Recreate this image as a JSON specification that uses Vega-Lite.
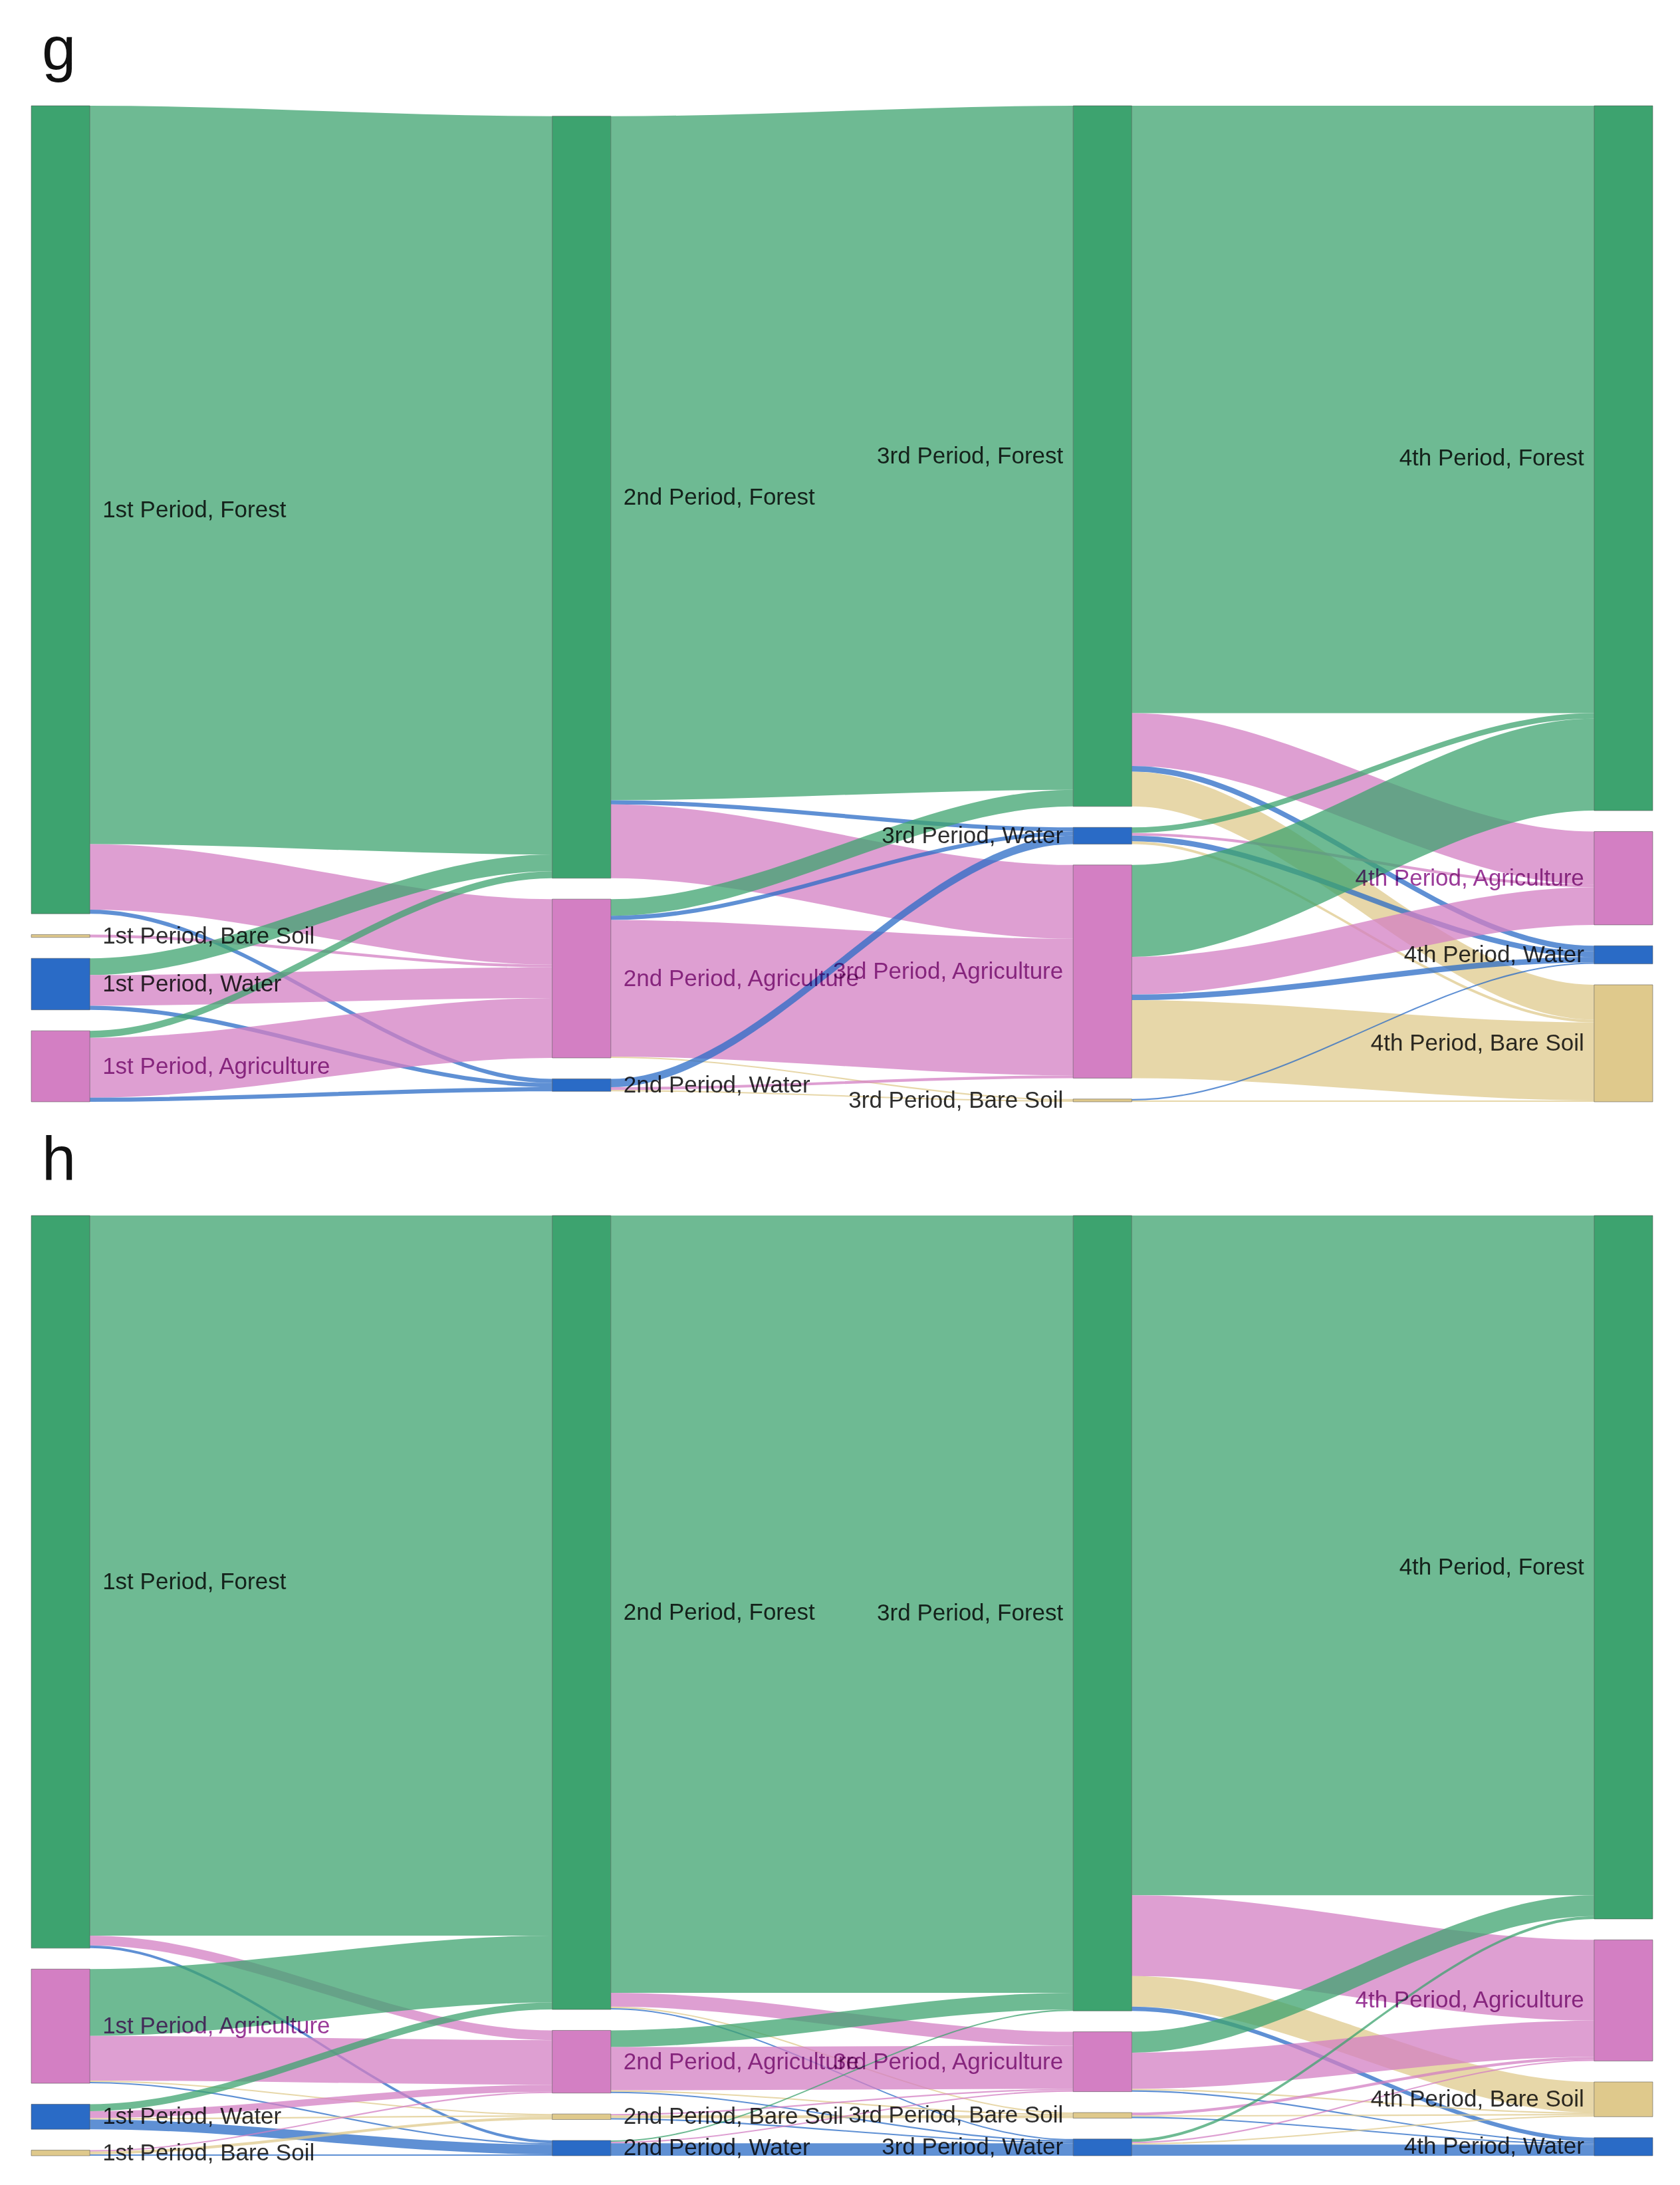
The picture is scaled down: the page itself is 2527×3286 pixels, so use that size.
{
  "$schema": "https://vega.github.io/schema/vega-lite/v6.json",
  "background": "white",
  "padding": {"left": 46, "right": 42, "top": 30, "bottom": 30},
  "spacing": 26,
  "config": {
    "view": {"stroke": null},
    "title": {"font": "Liberation Sans", "fontSize": 92, "fontWeight": "normal", "color": "#111111", "anchor": "start", "frame": "group", "offset": 35, "dx": 16}
  },
  "resolve": {"scale": {"x": "independent", "y": "independent"}},
  "datasets": {
    "nodes": [
      {"id": "g1 Forest", "ord": 0}, {"id": "g1 Bare Soil", "ord": 1}, {"id": "g1 Water", "ord": 2}, {"id": "g1 Agriculture", "ord": 3},
      {"id": "g2 Forest", "ord": 0}, {"id": "g2 Agriculture", "ord": 1}, {"id": "g2 Water", "ord": 2},
      {"id": "g3 Forest", "ord": 0}, {"id": "g3 Water", "ord": 1}, {"id": "g3 Agriculture", "ord": 2}, {"id": "g3 Bare Soil", "ord": 3},
      {"id": "g4 Forest", "ord": 0}, {"id": "g4 Agriculture", "ord": 1}, {"id": "g4 Water", "ord": 2}, {"id": "g4 Bare Soil", "ord": 3},
      {"id": "h1 Forest", "ord": 0}, {"id": "h1 Agriculture", "ord": 1}, {"id": "h1 Water", "ord": 2}, {"id": "h1 Bare Soil", "ord": 3},
      {"id": "h2 Forest", "ord": 0}, {"id": "h2 Agriculture", "ord": 1}, {"id": "h2 Bare Soil", "ord": 2}, {"id": "h2 Water", "ord": 3},
      {"id": "h3 Forest", "ord": 0}, {"id": "h3 Agriculture", "ord": 1}, {"id": "h3 Bare Soil", "ord": 2}, {"id": "h3 Water", "ord": 3},
      {"id": "h4 Forest", "ord": 0}, {"id": "h4 Agriculture", "ord": 1}, {"id": "h4 Bare Soil", "ord": 2}, {"id": "h4 Water", "ord": 3}
    ],
    "links": [
      {"panel": "g", "step": 1, "src": "Forest", "tgt": "Forest", "value": 530},
      {"panel": "g", "step": 1, "src": "Forest", "tgt": "Agriculture", "value": 47},
      {"panel": "g", "step": 1, "src": "Forest", "tgt": "Water", "value": 3},
      {"panel": "g", "step": 1, "src": "Bare Soil", "tgt": "Agriculture", "value": 2},
      {"panel": "g", "step": 1, "src": "Water", "tgt": "Forest", "value": 12},
      {"panel": "g", "step": 1, "src": "Water", "tgt": "Agriculture", "value": 22},
      {"panel": "g", "step": 1, "src": "Water", "tgt": "Water", "value": 3},
      {"panel": "g", "step": 1, "src": "Agriculture", "tgt": "Forest", "value": 5},
      {"panel": "g", "step": 1, "src": "Agriculture", "tgt": "Agriculture", "value": 43},
      {"panel": "g", "step": 1, "src": "Agriculture", "tgt": "Water", "value": 3},
      {"panel": "g", "step": 2, "src": "Forest", "tgt": "Forest", "value": 491},
      {"panel": "g", "step": 2, "src": "Forest", "tgt": "Water", "value": 3},
      {"panel": "g", "step": 2, "src": "Forest", "tgt": "Agriculture", "value": 53},
      {"panel": "g", "step": 2, "src": "Agriculture", "tgt": "Forest", "value": 12},
      {"panel": "g", "step": 2, "src": "Agriculture", "tgt": "Water", "value": 3},
      {"panel": "g", "step": 2, "src": "Agriculture", "tgt": "Agriculture", "value": 98},
      {"panel": "g", "step": 2, "src": "Agriculture", "tgt": "Bare Soil", "value": 1},
      {"panel": "g", "step": 2, "src": "Water", "tgt": "Water", "value": 6},
      {"panel": "g", "step": 2, "src": "Water", "tgt": "Agriculture", "value": 2},
      {"panel": "g", "step": 2, "src": "Water", "tgt": "Bare Soil", "value": 1},
      {"panel": "g", "step": 3, "src": "Forest", "tgt": "Forest", "value": 436},
      {"panel": "g", "step": 3, "src": "Forest", "tgt": "Agriculture", "value": 38},
      {"panel": "g", "step": 3, "src": "Forest", "tgt": "Water", "value": 4},
      {"panel": "g", "step": 3, "src": "Forest", "tgt": "Bare Soil", "value": 25},
      {"panel": "g", "step": 3, "src": "Water", "tgt": "Forest", "value": 4},
      {"panel": "g", "step": 3, "src": "Water", "tgt": "Agriculture", "value": 2},
      {"panel": "g", "step": 3, "src": "Water", "tgt": "Water", "value": 4},
      {"panel": "g", "step": 3, "src": "Water", "tgt": "Bare Soil", "value": 2},
      {"panel": "g", "step": 3, "src": "Agriculture", "tgt": "Forest", "value": 66},
      {"panel": "g", "step": 3, "src": "Agriculture", "tgt": "Agriculture", "value": 27},
      {"panel": "g", "step": 3, "src": "Agriculture", "tgt": "Water", "value": 4},
      {"panel": "g", "step": 3, "src": "Agriculture", "tgt": "Bare Soil", "value": 56},
      {"panel": "g", "step": 3, "src": "Bare Soil", "tgt": "Water", "value": 1},
      {"panel": "g", "step": 3, "src": "Bare Soil", "tgt": "Bare Soil", "value": 1},
      {"panel": "h", "step": 1, "src": "Forest", "tgt": "Forest", "value": 517},
      {"panel": "h", "step": 1, "src": "Forest", "tgt": "Agriculture", "value": 7},
      {"panel": "h", "step": 1, "src": "Forest", "tgt": "Water", "value": 2},
      {"panel": "h", "step": 1, "src": "Agriculture", "tgt": "Forest", "value": 48},
      {"panel": "h", "step": 1, "src": "Agriculture", "tgt": "Agriculture", "value": 32},
      {"panel": "h", "step": 1, "src": "Agriculture", "tgt": "Bare Soil", "value": 1},
      {"panel": "h", "step": 1, "src": "Agriculture", "tgt": "Water", "value": 1},
      {"panel": "h", "step": 1, "src": "Water", "tgt": "Forest", "value": 5},
      {"panel": "h", "step": 1, "src": "Water", "tgt": "Agriculture", "value": 5},
      {"panel": "h", "step": 1, "src": "Water", "tgt": "Bare Soil", "value": 1},
      {"panel": "h", "step": 1, "src": "Water", "tgt": "Water", "value": 7},
      {"panel": "h", "step": 1, "src": "Bare Soil", "tgt": "Agriculture", "value": 1},
      {"panel": "h", "step": 1, "src": "Bare Soil", "tgt": "Bare Soil", "value": 2},
      {"panel": "h", "step": 1, "src": "Bare Soil", "tgt": "Water", "value": 1},
      {"panel": "h", "step": 2, "src": "Forest", "tgt": "Forest", "value": 558},
      {"panel": "h", "step": 2, "src": "Forest", "tgt": "Agriculture", "value": 10},
      {"panel": "h", "step": 2, "src": "Forest", "tgt": "Bare Soil", "value": 1},
      {"panel": "h", "step": 2, "src": "Forest", "tgt": "Water", "value": 1},
      {"panel": "h", "step": 2, "src": "Agriculture", "tgt": "Forest", "value": 12},
      {"panel": "h", "step": 2, "src": "Agriculture", "tgt": "Agriculture", "value": 31},
      {"panel": "h", "step": 2, "src": "Agriculture", "tgt": "Bare Soil", "value": 1},
      {"panel": "h", "step": 2, "src": "Agriculture", "tgt": "Water", "value": 1},
      {"panel": "h", "step": 2, "src": "Bare Soil", "tgt": "Agriculture", "value": 1},
      {"panel": "h", "step": 2, "src": "Bare Soil", "tgt": "Bare Soil", "value": 2},
      {"panel": "h", "step": 2, "src": "Bare Soil", "tgt": "Water", "value": 1},
      {"panel": "h", "step": 2, "src": "Water", "tgt": "Forest", "value": 1},
      {"panel": "h", "step": 2, "src": "Water", "tgt": "Agriculture", "value": 1},
      {"panel": "h", "step": 2, "src": "Water", "tgt": "Water", "value": 9},
      {"panel": "h", "step": 3, "src": "Forest", "tgt": "Forest", "value": 488},
      {"panel": "h", "step": 3, "src": "Forest", "tgt": "Agriculture", "value": 58},
      {"panel": "h", "step": 3, "src": "Forest", "tgt": "Bare Soil", "value": 22},
      {"panel": "h", "step": 3, "src": "Forest", "tgt": "Water", "value": 3},
      {"panel": "h", "step": 3, "src": "Agriculture", "tgt": "Forest", "value": 15},
      {"panel": "h", "step": 3, "src": "Agriculture", "tgt": "Agriculture", "value": 26},
      {"panel": "h", "step": 3, "src": "Agriculture", "tgt": "Bare Soil", "value": 1},
      {"panel": "h", "step": 3, "src": "Agriculture", "tgt": "Water", "value": 1},
      {"panel": "h", "step": 3, "src": "Bare Soil", "tgt": "Agriculture", "value": 2},
      {"panel": "h", "step": 3, "src": "Bare Soil", "tgt": "Bare Soil", "value": 1},
      {"panel": "h", "step": 3, "src": "Bare Soil", "tgt": "Water", "value": 1},
      {"panel": "h", "step": 3, "src": "Water", "tgt": "Forest", "value": 2},
      {"panel": "h", "step": 3, "src": "Water", "tgt": "Agriculture", "value": 1},
      {"panel": "h", "step": 3, "src": "Water", "tgt": "Bare Soil", "value": 1},
      {"panel": "h", "step": 3, "src": "Water", "tgt": "Water", "value": 8}
    ]
  },
  "vconcat": [
    {
      "title": {"text": "g"},
      "width": 2439,
      "height": 1498,
      "data": {"name": "links"},
      "transform": [
        {"filter": "datum.panel === 'g'"},
        {"calculate": "datum.panel + datum.step + ' ' + datum.src", "as": "sid"},
        {"calculate": "datum.panel + (datum.step + 1) + ' ' + datum.tgt", "as": "tid"},
        {"lookup": "sid", "from": {"data": {"name": "nodes"}, "key": "id", "fields": ["ord"]}, "as": ["sord"]},
        {"lookup": "tid", "from": {"data": {"name": "nodes"}, "key": "id", "fields": ["ord"]}, "as": ["tord"]},
        {"window": [{"op": "sum", "field": "value", "as": "scum"}], "groupby": ["step"], "sort": [{"field": "sord"}, {"field": "tord"}]},
        {"window": [{"op": "dense_rank", "as": "srank"}], "groupby": ["step"], "sort": [{"field": "sord"}]},
        {"window": [{"op": "sum", "field": "value", "as": "tcum"}], "groupby": ["step"], "sort": [{"field": "tord"}, {"field": "sord"}]},
        {"window": [{"op": "dense_rank", "as": "trank"}], "groupby": ["step"], "sort": [{"field": "tord"}]},
        {"joinaggregate": [{"op": "sum", "field": "value", "as": "ctot"}, {"op": "max", "field": "srank", "as": "sn"}, {"op": "max", "field": "trank", "as": "tn"}], "groupby": ["step"]},
        {"calculate": "datum.ctot + (datum.sn - 1) * 15", "as": "sspan"},
        {"calculate": "datum.ctot + (datum.tn - 1) * 15", "as": "tspan"},
        {"joinaggregate": [{"op": "max", "field": "sspan", "as": "m1"}, {"op": "max", "field": "tspan", "as": "m2"}]},
        {"calculate": "max(datum.m1, datum.m2)", "as": "mspan"},
        {"calculate": "(datum.mspan - datum.sspan) / 2 + datum.scum + (datum.srank - 1) * 15", "as": "sy1"},
        {"calculate": "datum.sy1 - datum.value", "as": "sy0"},
        {"calculate": "(datum.mspan - datum.tspan) / 2 + datum.tcum + (datum.trank - 1) * 15", "as": "ty1"},
        {"calculate": "datum.ty1 - datum.value", "as": "ty0"}
      ],
      "layer": [
        {
          "transform": [
            {"calculate": "datum.step - 1 + 0.1125", "as": "xa"},
            {"calculate": "datum.step - 1 + 0.1135", "as": "xb"},
            {"calculate": "datum.step - 0.001", "as": "xc"},
            {"calculate": "datum.step", "as": "xd"},
            {"fold": ["xa", "xb", "xc", "xd"], "as": ["k", "px"]},
            {"calculate": "datum.k === 'xa' || datum.k === 'xb' ? datum.sy0 : datum.ty0", "as": "top"},
            {"calculate": "datum.k === 'xa' || datum.k === 'xb' ? datum.sy1 : datum.ty1", "as": "bot"},
            {"calculate": "datum.sid + ' > ' + datum.tgt", "as": "lid"}
          ],
          "mark": {"type": "area", "interpolate": "monotone", "opacity": 0.75},
          "encoding": {
            "x": {"field": "px", "type": "quantitative", "scale": {"domain": [0, 3.1125], "nice": false, "zero": false}, "axis": null},
            "y": {"field": "top", "type": "quantitative", "stack": null, "scale": {"reverse": true, "nice": false, "zero": true}, "axis": null},
            "y2": {"field": "bot"},
            "detail": {"field": "lid", "type": "nominal"},
            "color": {"field": "tgt", "type": "nominal", "scale": {"domain": ["Forest", "Agriculture", "Water", "Bare Soil"], "range": ["#3da36f", "#d37fc3", "#2a6bc6", "#dfc98c"]}, "legend": null}
          }
        },
        {
          "transform": [
            {"fold": ["sy0", "ty0"], "as": ["side", "ny0"]},
            {"calculate": "datum.side === 'sy0' ? datum.sy1 : datum.ty1", "as": "ny1"},
            {"calculate": "datum.side === 'sy0' ? datum.step : datum.step + 1", "as": "np"},
            {"calculate": "datum.side === 'sy0' ? datum.src : datum.tgt", "as": "ncls"},
            {"aggregate": [{"op": "min", "field": "ny0", "as": "y0"}, {"op": "max", "field": "ny1", "as": "y1"}], "groupby": ["np", "ncls"]},
            {"calculate": "datum.np - 1", "as": "nx0"},
            {"calculate": "datum.np - 1 + 0.1125", "as": "nx1"},
            {"calculate": "(datum.y0 + datum.y1) / 2", "as": "ym"},
            {"calculate": "['1st', '2nd', '3rd', '4th'][datum.np - 1] + ' Period, ' + datum.ncls", "as": "label"}
          ],
          "layer": [
            {
              "mark": {"type": "rect", "stroke": "#444444", "strokeWidth": 1, "strokeOpacity": 0.5},
              "encoding": {
                "x": {"field": "nx0", "type": "quantitative", "scale": {"domain": [0, 3.1125], "nice": false, "zero": false}, "axis": null},
                "x2": {"field": "nx1"},
                "y": {"field": "y0", "type": "quantitative", "scale": {"reverse": true, "nice": false, "zero": true}, "axis": null},
                "y2": {"field": "y1"},
                "color": {"field": "ncls", "type": "nominal", "scale": {"domain": ["Forest", "Agriculture", "Water", "Bare Soil"], "range": ["#3da36f", "#d37fc3", "#2a6bc6", "#dfc98c"]}, "legend": null}
              }
            },
            {
              "transform": [{"filter": "datum.np <= 2"}],
              "mark": {"type": "text", "align": "left", "baseline": "middle", "dx": 19, "font": "Liberation Sans", "fontSize": 35, "blend": "multiply"},
              "encoding": {
                "x": {"field": "nx1", "type": "quantitative", "scale": {"domain": [0, 3.1125], "nice": false, "zero": false}, "axis": null},
                "y": {"field": "ym", "type": "quantitative", "scale": {"reverse": true, "nice": false, "zero": true}, "axis": null},
                "text": {"field": "label"},
                "color": {"condition": {"test": "datum.ncls === 'Agriculture'", "value": "#9a3a98"}, "value": "#2e2e2e"}
              }
            },
            {
              "transform": [{"filter": "datum.np > 2"}],
              "mark": {"type": "text", "align": "right", "baseline": "middle", "dx": -15, "font": "Liberation Sans", "fontSize": 35, "blend": "multiply"},
              "encoding": {
                "x": {"field": "nx0", "type": "quantitative", "scale": {"domain": [0, 3.1125], "nice": false, "zero": false}, "axis": null},
                "y": {"field": "ym", "type": "quantitative", "scale": {"reverse": true, "nice": false, "zero": true}, "axis": null},
                "text": {"field": "label"},
                "color": {"condition": {"test": "datum.ncls === 'Agriculture'", "value": "#9a3a98"}, "value": "#2e2e2e"}
              }
            }
          ]
        }
      ]
    },
    {
      "title": {"text": "h"},
      "width": 2439,
      "height": 1414,
      "data": {"name": "links"},
      "transform": [
        {"filter": "datum.panel === 'h'"},
        {"calculate": "datum.panel + datum.step + ' ' + datum.src", "as": "sid"},
        {"calculate": "datum.panel + (datum.step + 1) + ' ' + datum.tgt", "as": "tid"},
        {"lookup": "sid", "from": {"data": {"name": "nodes"}, "key": "id", "fields": ["ord"]}, "as": ["sord"]},
        {"lookup": "tid", "from": {"data": {"name": "nodes"}, "key": "id", "fields": ["ord"]}, "as": ["tord"]},
        {"window": [{"op": "sum", "field": "value", "as": "scum"}], "groupby": ["step"], "sort": [{"field": "sord"}, {"field": "tord"}]},
        {"window": [{"op": "dense_rank", "as": "srank"}], "groupby": ["step"], "sort": [{"field": "sord"}]},
        {"window": [{"op": "sum", "field": "value", "as": "tcum"}], "groupby": ["step"], "sort": [{"field": "tord"}, {"field": "sord"}]},
        {"window": [{"op": "dense_rank", "as": "trank"}], "groupby": ["step"], "sort": [{"field": "tord"}]},
        {"joinaggregate": [{"op": "sum", "field": "value", "as": "ctot"}, {"op": "max", "field": "srank", "as": "sn"}, {"op": "max", "field": "trank", "as": "tn"}], "groupby": ["step"]},
        {"calculate": "datum.ctot + (datum.sn - 1) * 15", "as": "sspan"},
        {"calculate": "datum.ctot + (datum.tn - 1) * 15", "as": "tspan"},
        {"joinaggregate": [{"op": "max", "field": "sspan", "as": "m1"}, {"op": "max", "field": "tspan", "as": "m2"}]},
        {"calculate": "max(datum.m1, datum.m2)", "as": "mspan"},
        {"calculate": "(datum.mspan - datum.sspan) / 2 + datum.scum + (datum.srank - 1) * 15", "as": "sy1"},
        {"calculate": "datum.sy1 - datum.value", "as": "sy0"},
        {"calculate": "(datum.mspan - datum.tspan) / 2 + datum.tcum + (datum.trank - 1) * 15", "as": "ty1"},
        {"calculate": "datum.ty1 - datum.value", "as": "ty0"}
      ],
      "layer": [
        {
          "transform": [
            {"calculate": "datum.step - 1 + 0.1125", "as": "xa"},
            {"calculate": "datum.step - 1 + 0.1135", "as": "xb"},
            {"calculate": "datum.step - 0.001", "as": "xc"},
            {"calculate": "datum.step", "as": "xd"},
            {"fold": ["xa", "xb", "xc", "xd"], "as": ["k", "px"]},
            {"calculate": "datum.k === 'xa' || datum.k === 'xb' ? datum.sy0 : datum.ty0", "as": "top"},
            {"calculate": "datum.k === 'xa' || datum.k === 'xb' ? datum.sy1 : datum.ty1", "as": "bot"},
            {"calculate": "datum.sid + ' > ' + datum.tgt", "as": "lid"}
          ],
          "mark": {"type": "area", "interpolate": "monotone", "opacity": 0.75},
          "encoding": {
            "x": {"field": "px", "type": "quantitative", "scale": {"domain": [0, 3.1125], "nice": false, "zero": false}, "axis": null},
            "y": {"field": "top", "type": "quantitative", "stack": null, "scale": {"reverse": true, "nice": false, "zero": true}, "axis": null},
            "y2": {"field": "bot"},
            "detail": {"field": "lid", "type": "nominal"},
            "color": {"field": "tgt", "type": "nominal", "scale": {"domain": ["Forest", "Agriculture", "Water", "Bare Soil"], "range": ["#3da36f", "#d37fc3", "#2a6bc6", "#dfc98c"]}, "legend": null}
          }
        },
        {
          "transform": [
            {"fold": ["sy0", "ty0"], "as": ["side", "ny0"]},
            {"calculate": "datum.side === 'sy0' ? datum.sy1 : datum.ty1", "as": "ny1"},
            {"calculate": "datum.side === 'sy0' ? datum.step : datum.step + 1", "as": "np"},
            {"calculate": "datum.side === 'sy0' ? datum.src : datum.tgt", "as": "ncls"},
            {"aggregate": [{"op": "min", "field": "ny0", "as": "y0"}, {"op": "max", "field": "ny1", "as": "y1"}], "groupby": ["np", "ncls"]},
            {"calculate": "datum.np - 1", "as": "nx0"},
            {"calculate": "datum.np - 1 + 0.1125", "as": "nx1"},
            {"calculate": "(datum.y0 + datum.y1) / 2", "as": "ym"},
            {"calculate": "['1st', '2nd', '3rd', '4th'][datum.np - 1] + ' Period, ' + datum.ncls", "as": "label"}
          ],
          "layer": [
            {
              "mark": {"type": "rect", "stroke": "#444444", "strokeWidth": 1, "strokeOpacity": 0.5},
              "encoding": {
                "x": {"field": "nx0", "type": "quantitative", "scale": {"domain": [0, 3.1125], "nice": false, "zero": false}, "axis": null},
                "x2": {"field": "nx1"},
                "y": {"field": "y0", "type": "quantitative", "scale": {"reverse": true, "nice": false, "zero": true}, "axis": null},
                "y2": {"field": "y1"},
                "color": {"field": "ncls", "type": "nominal", "scale": {"domain": ["Forest", "Agriculture", "Water", "Bare Soil"], "range": ["#3da36f", "#d37fc3", "#2a6bc6", "#dfc98c"]}, "legend": null}
              }
            },
            {
              "transform": [{"filter": "datum.np <= 2"}],
              "mark": {"type": "text", "align": "left", "baseline": "middle", "dx": 19, "font": "Liberation Sans", "fontSize": 35, "blend": "multiply"},
              "encoding": {
                "x": {"field": "nx1", "type": "quantitative", "scale": {"domain": [0, 3.1125], "nice": false, "zero": false}, "axis": null},
                "y": {"field": "ym", "type": "quantitative", "scale": {"reverse": true, "nice": false, "zero": true}, "axis": null},
                "text": {"field": "label"},
                "color": {"condition": {"test": "datum.ncls === 'Agriculture'", "value": "#9a3a98"}, "value": "#2e2e2e"}
              }
            },
            {
              "transform": [{"filter": "datum.np > 2"}],
              "mark": {"type": "text", "align": "right", "baseline": "middle", "dx": -15, "font": "Liberation Sans", "fontSize": 35, "blend": "multiply"},
              "encoding": {
                "x": {"field": "nx0", "type": "quantitative", "scale": {"domain": [0, 3.1125], "nice": false, "zero": false}, "axis": null},
                "y": {"field": "ym", "type": "quantitative", "scale": {"reverse": true, "nice": false, "zero": true}, "axis": null},
                "text": {"field": "label"},
                "color": {"condition": {"test": "datum.ncls === 'Agriculture'", "value": "#9a3a98"}, "value": "#2e2e2e"}
              }
            }
          ]
        }
      ]
    }
  ]
}
